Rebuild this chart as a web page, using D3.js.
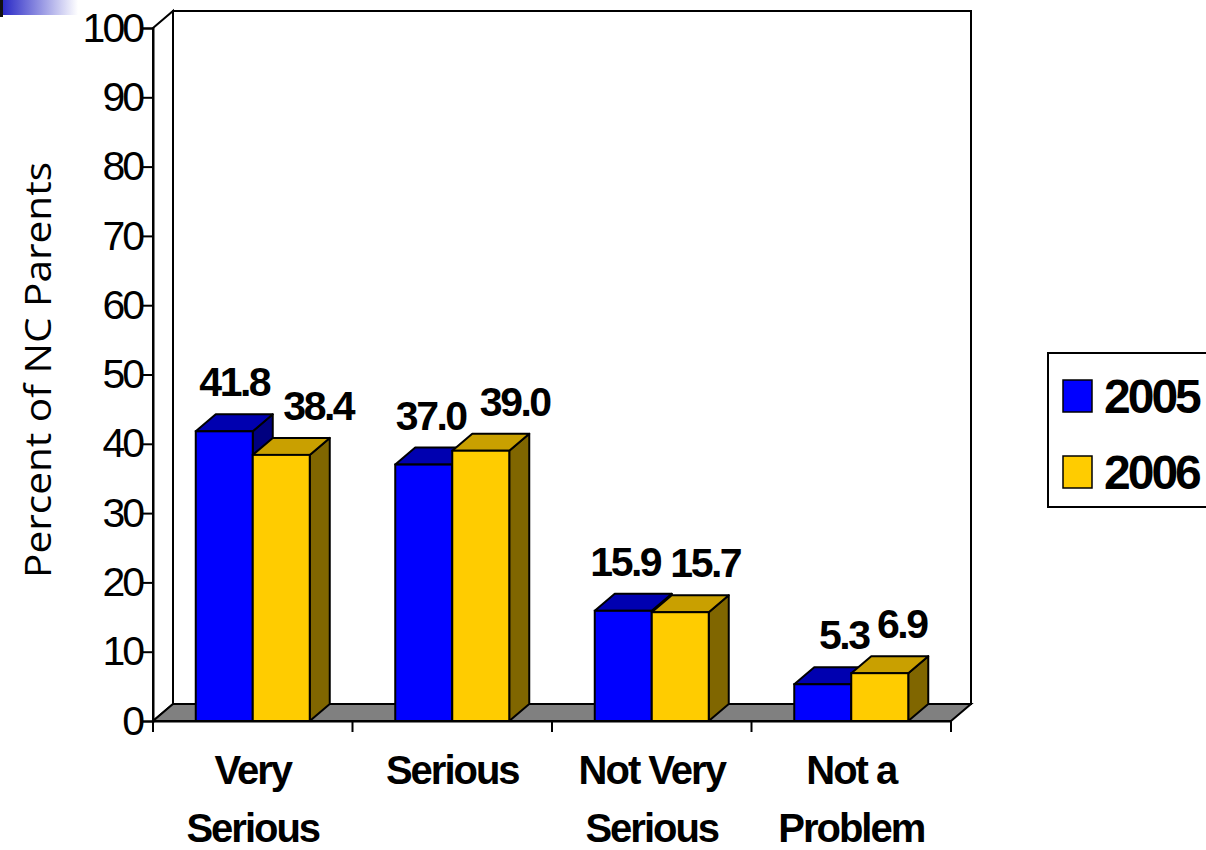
<!DOCTYPE html>
<html>
<head>
<meta charset="utf-8">
<script src="https://cdn.jsdelivr.net/npm/d3@7"></script>
<style>
  html, body { margin: 0; padding: 0; background: #fff; }
  svg { display: block; }
  text { font-family: "Liberation Sans", Arial, sans-serif; fill: #000; }
  .value, .cat, .legend-label { font-weight: bold; }
</style>
</head>
<body>
<svg id="chart" width="1206" height="850"></svg>
<script>
// survey answers, two survey years
const categories = ["Very Serious", "Serious", "Not Very Serious", "Not a Problem"];
const categoryLines = [["Very", "Serious"], ["Serious"], ["Not Very", "Serious"], ["Not a", "Problem"]];
const seriesNames = ["2005", "2006"];
const values2005 = [41.8, 37.0, 15.9, 5.3];
const values2006 = [38.4, 39.0, 15.7, 6.9];
const yTicks = [0, 10, 20, 30, 40, 50, 60, 70, 80, 90, 100];

// face colours: front, top, side
const faces = {
  "2005": { front: "#0000ff", top: "#0000b0", side: "#00007f" },
  "2006": { front: "#ffcc00", top: "#c9a000", side: "#806600" }
};

// horizontal nudges for the value labels, in draw order
const labelShift = [0, 27, -3, 24, -8, 15, 11, 12];

const svg = d3.select("#chart");
const depth = { dx: 20, dy: -17 };
const plot = { left: 153, right: 951, top: 28, bottom: 721 };

const y = d3.scaleLinear().domain([0, 100]).range([plot.bottom, plot.top]);
const x = d3.scaleBand().domain(categories).range([plot.left, plot.right]);
const xs = d3.scaleBand().domain(seriesNames).range([0, 114]);

// slide corner decoration
const grad = svg.append("defs").append("linearGradient").attr("id", "corner");
grad.append("stop").attr("offset", "0%").attr("stop-color", "#2222c4");
grad.append("stop").attr("offset", "100%").attr("stop-color", "#ffffff");
svg.append("rect").attr("x", 0).attr("y", 0).attr("width", 78).attr("height", 15).attr("fill", "url(#corner)");
svg.append("rect").attr("x", 0).attr("y", 0).attr("width", 3).attr("height", 17).attr("fill", "#111");

// walls
const g = svg.append("g");
const pts = (a) => a.map((p) => p.join(",")).join(" ");
g.append("polygon")
  .attr("points", pts([[plot.left, plot.top], [plot.left + depth.dx, plot.top + depth.dy],
    [plot.left + depth.dx, plot.bottom + depth.dy], [plot.left, plot.bottom]]))
  .attr("fill", "#fff").attr("stroke", "#000").attr("stroke-width", 2);
g.append("rect")
  .attr("x", plot.left + depth.dx).attr("y", plot.top + depth.dy)
  .attr("width", plot.right - plot.left).attr("height", plot.bottom - plot.top)
  .attr("fill", "#fff").attr("stroke", "#000").attr("stroke-width", 2);
// floor
g.append("polygon")
  .attr("points", pts([[plot.left, plot.bottom], [plot.left + depth.dx, plot.bottom + depth.dy],
    [plot.right + depth.dx, plot.bottom + depth.dy], [plot.right, plot.bottom]]))
  .attr("fill", "#808080").attr("stroke", "#000").attr("stroke-width", 2);

// y axis
const yAxis = svg.append("g")
  .attr("transform", `translate(${plot.left},0)`)
  .call(d3.axisLeft(y).tickValues(yTicks).tickSize(10).tickPadding(4));
yAxis.select(".domain").attr("stroke-width", 2);
yAxis.selectAll(".tick line").attr("stroke-width", 2);
yAxis.selectAll(".tick text")
  .attr("font-family", "Liberation Sans, Arial, sans-serif")
  .attr("font-size", 41).attr("letter-spacing", -3).attr("dx", 3);

// x axis along the front edge of the floor
const xAxis = svg.append("g")
  .attr("transform", `translate(0,${plot.bottom})`)
  .call(d3.axisBottom(x).tickSize(0).tickFormat(""));
xAxis.select(".domain").attr("stroke-width", 2);
const bounds = categories.map((c) => x(c)).concat([plot.right]);
xAxis.selectAll(".sep").data(bounds).join("line")
  .attr("class", "sep")
  .attr("x1", (d) => d).attr("x2", (d) => d)
  .attr("y1", 0).attr("y2", 11)
  .attr("stroke", "#000").attr("stroke-width", 2);

// category labels
const cat = svg.append("g").selectAll(".cat").data(categories).join("text")
  .attr("class", "cat")
  .attr("x", (c) => x(c) + x.bandwidth() / 2)
  .attr("y", 784)
  .attr("text-anchor", "middle")
  .attr("font-size", 40)
  .attr("letter-spacing", -2);
cat.selectAll("tspan").data((c, i) => categoryLines[i]).join("tspan")
  .attr("x", function () { return this.parentNode.getAttribute("x"); })
  .attr("dy", (d, i) => (i === 0 ? 0 : 58))
  .text((d) => d);

// bars, drawn left to right so later fronts cover earlier sides
const bars = [];
categories.forEach((c, i) => {
  bars.push({ cat: c, s: "2005", v: values2005[i] });
  bars.push({ cat: c, s: "2006", v: values2006[i] });
});

const barG = svg.append("g");
bars.forEach((b, i) => {
  const x0 = x(b.cat) + x.bandwidth() / 2 - xs.range()[1] / 2 + xs(b.s);
  const x1 = x0 + xs.bandwidth();
  const yt = y(b.v);
  const yb = y(0);
  const col = faces[b.s];
  const grp = barG.append("g");
  grp.append("polygon")
    .attr("points", pts([[x1, yt], [x1 + depth.dx, yt + depth.dy], [x1 + depth.dx, yb + depth.dy], [x1, yb]]))
    .attr("fill", col.side).attr("stroke", "#000").attr("stroke-width", 2).attr("stroke-linejoin", "round");
  grp.append("polygon")
    .attr("points", pts([[x0, yt], [x0 + depth.dx, yt + depth.dy], [x1 + depth.dx, yt + depth.dy], [x1, yt]]))
    .attr("fill", col.top).attr("stroke", "#000").attr("stroke-width", 2).attr("stroke-linejoin", "round");
  grp.append("rect")
    .attr("x", x0).attr("y", yt).attr("width", x1 - x0).attr("height", yb - yt)
    .attr("fill", col.front).attr("stroke", "#000").attr("stroke-width", 2);
  svg.append("text")
    .attr("class", "value")
    .attr("x", (x0 + x1) / 2 + depth.dx / 2 + labelShift[i])
    .attr("y", yt + depth.dy - 18)
    .attr("text-anchor", "middle")
    .attr("font-size", 41)
    .attr("letter-spacing", -2.5)
    .text(b.v.toFixed(1));
});

// axis title
svg.append("text")
  .attr("transform", "translate(51,370) rotate(-90)")
  .attr("text-anchor", "middle")
  .style("font-family", "'Open Sans', 'Noto Sans', sans-serif")
  .attr("font-size", 36)
  .attr("textLength", 416)
  .attr("lengthAdjust", "spacingAndGlyphs")
  .text("Percent of NC Parents");

// legend
const leg = svg.append("g");
leg.append("rect")
  .attr("x", 1048).attr("y", 353).attr("width", 170).attr("height", 154)
  .attr("fill", "#fff").attr("stroke", "#000").attr("stroke-width", 2);
seriesNames.forEach((s, i) => {
  leg.append("rect")
    .attr("x", 1063).attr("y", 380 + i * 76).attr("width", 29).attr("height", 32)
    .attr("fill", faces[s].front).attr("stroke", "#000").attr("stroke-width", 1.5);
  leg.append("text")
    .attr("class", "legend-label")
    .attr("x", 1104).attr("y", 413 + i * 76)
    .attr("font-size", 48)
    .attr("letter-spacing", -3)
    .text(s);
});
</script>
</body>
</html>
